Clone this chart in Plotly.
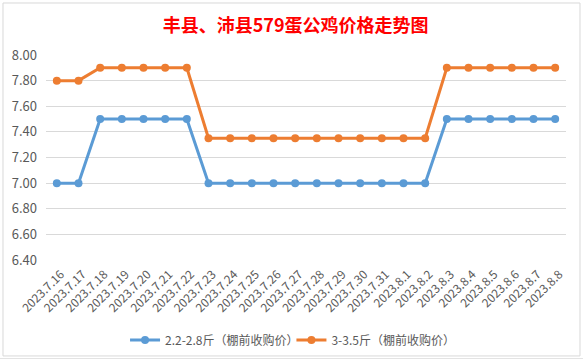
import plotly.graph_objects as go

dates = ["2023.7.16", "2023.7.17", "2023.7.18", "2023.7.19", "2023.7.20", "2023.7.21",
         "2023.7.22", "2023.7.23", "2023.7.24", "2023.7.25", "2023.7.26", "2023.7.27",
         "2023.7.28", "2023.7.29", "2023.7.30", "2023.7.31", "2023.8.1", "2023.8.2",
         "2023.8.3", "2023.8.4", "2023.8.5", "2023.8.6", "2023.8.7", "2023.8.8"]
small = [7.0, 7.0, 7.5, 7.5, 7.5, 7.5, 7.5, 7.0, 7.0, 7.0, 7.0, 7.0,
         7.0, 7.0, 7.0, 7.0, 7.0, 7.0, 7.5, 7.5, 7.5, 7.5, 7.5, 7.5]
large = [7.8, 7.8, 7.9, 7.9, 7.9, 7.9, 7.9, 7.35, 7.35, 7.35, 7.35, 7.35,
         7.35, 7.35, 7.35, 7.35, 7.35, 7.35, 7.9, 7.9, 7.9, 7.9, 7.9, 7.9]
y_ticks = [6.4, 6.6, 6.8, 7.0, 7.2, 7.4, 7.6, 7.8, 8.0]
names = ["2.2-2.8斤（棚前收购价）", "3-3.5斤（棚前收购价）"]
title = "丰县、沛县579蛋公鸡价格走势图"

FONT = "Microsoft YaHei, Noto Sans CJK SC, sans-serif"

fig = go.Figure()
fig.add_trace(go.Scatter(x=dates, y=small, name=names[0], mode="lines+markers",
                         line=dict(color="#5B9BD5", width=3),
                         marker=dict(size=8, color="#5B9BD5"), legend="legend"))
fig.add_trace(go.Scatter(x=dates, y=large, name=names[1], mode="lines+markers",
                         line=dict(color="#ED7D31", width=3),
                         marker=dict(size=8, color="#ED7D31"), legend="legend2"))

leg_common = dict(orientation="h", xanchor="left", y=-0.39, yanchor="middle",
                  font=dict(size=12, color="#595959"), bgcolor="rgba(0,0,0,0)",
                  itemwidth=30)

fig.update_layout(
    width=583, height=360,
    margin=dict(l=46, r=17, t=55, b=100, autoexpand=False),
    paper_bgcolor="white", plot_bgcolor="white",
    title=dict(text=f"<b>{title}</b>", x=0.507, xanchor="center", y=0.93, yanchor="middle",
               font=dict(family="Noto Sans CJK SC", size=18, color="#FF0000")),
    font=dict(family=FONT, color="#595959"),
    showlegend=True,
    legend=dict(x=0.152, **leg_common),
    legend2=dict(x=0.472, **leg_common),
    xaxis=dict(type="category", tickangle=-45, tickfont=dict(size=12, color="#595959"),
               range=[-0.5, len(dates) - 0.5], ticklabelshift=4, ticklabelstandoff=4,
               showgrid=False, showline=False, ticks="", zeroline=False, automargin=False),
    yaxis=dict(range=[6.4, 8.0], tickvals=y_ticks, tickformat=".2f",
               tickfont=dict(size=13, color="#595959"), gridcolor="#d9d9d9", gridwidth=1,
               showline=False, zeroline=False, ticks="", ticklabelstandoff=8, automargin=False),
    shapes=[dict(type="rect", xref="paper", yref="paper",
                 x0=-0.0827, x1=1.0269, y0=-0.468, y1=1.2537,
                 line=dict(color="#d9d9d9", width=1), layer="below"),
            dict(type="line", xref="paper", yref="paper",
                 x0=-0.1, x1=1.1, y0=-0.4805, y1=-0.4805,
                 line=dict(color="#e3e3e3", width=1), layer="below")],
)

fig.write_html("out.html", config={"displayModeBar": False},
               post_script="document.body.style.margin='0';")
